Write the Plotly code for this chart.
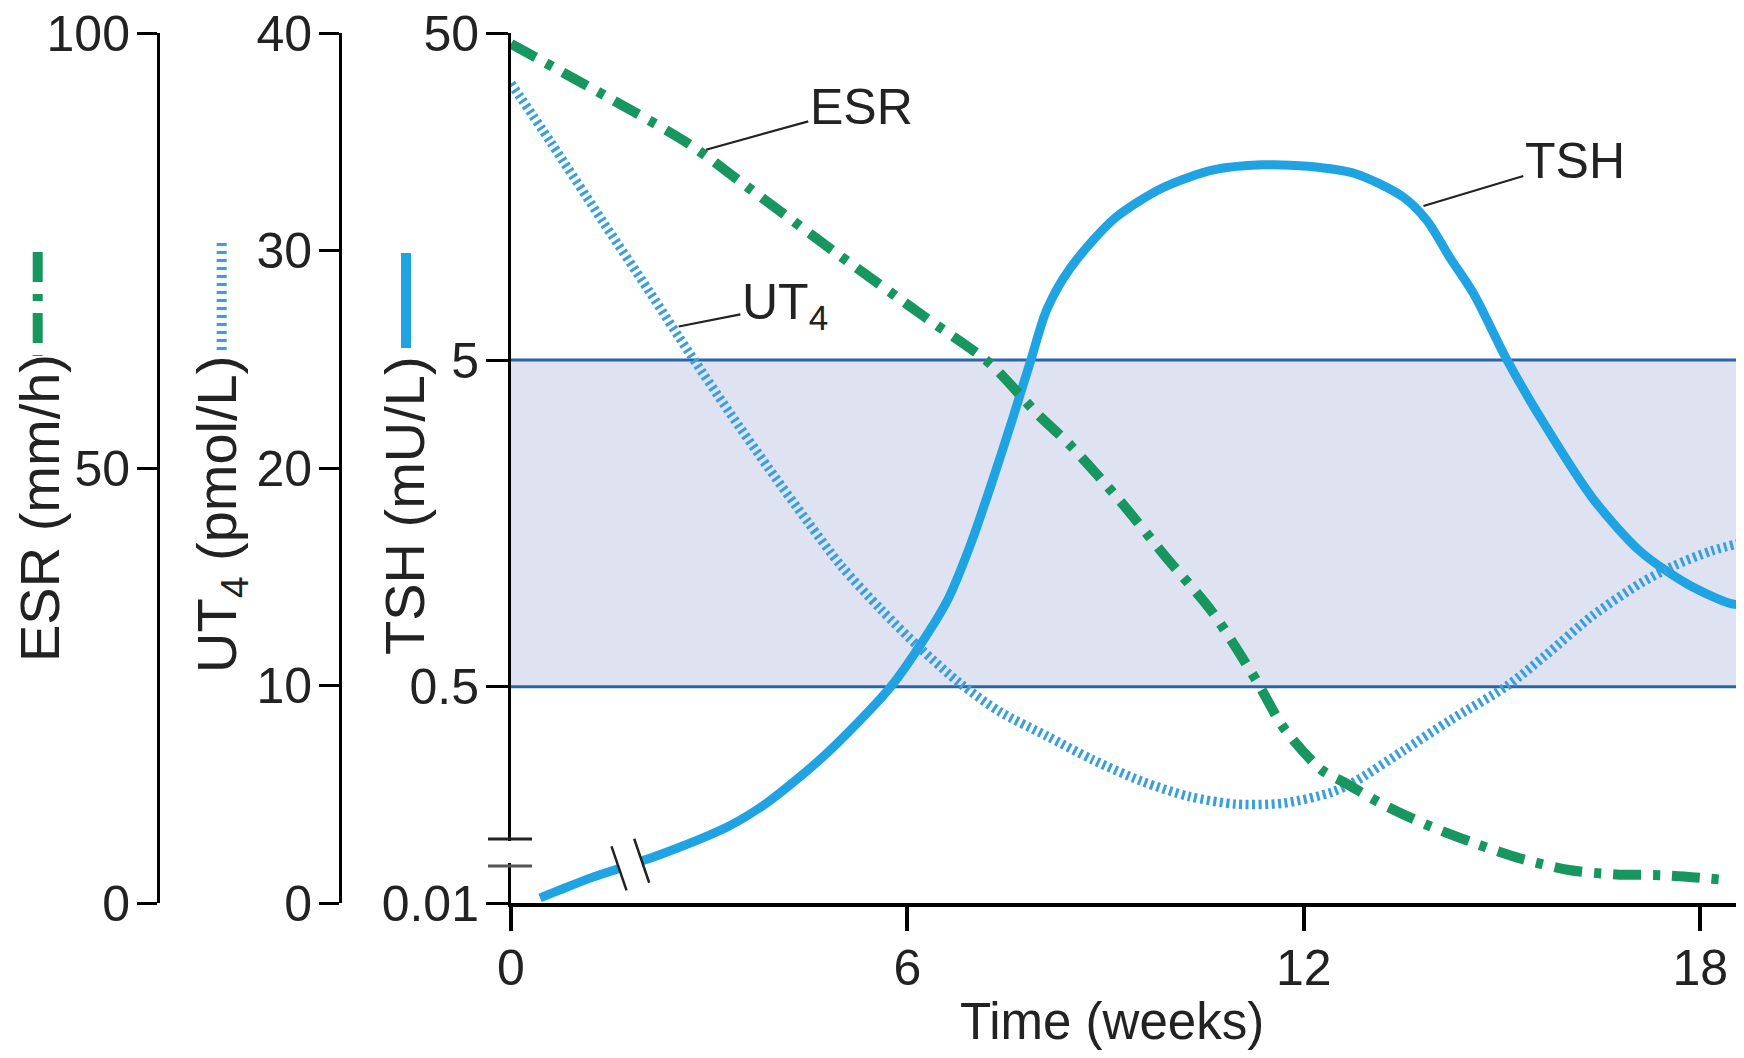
import numpy as np
import plotly.graph_objects as go

# ---------------- data ----------------
weeks_esr = [0.0, 1.55, 2.69, 3.57, 4.93, 6.28, 7.24, 7.96, 8.47, 9.19, 9.90, 10.62,
             11.28, 11.70, 12.27, 12.63, 13.13, 13.86, 14.58, 15.29, 16.01, 16.73, 17.44, 18.32]
esr = [98.8, 92.3, 87.3, 82.4, 74.7, 67.3, 62.1, 56.3, 52.6, 46.5, 39.9, 33.4,
       25.6, 20.1, 15.3, 13.8, 11.6, 9.0, 6.9, 5.1, 3.8, 3.3, 3.2, 2.7]

weeks_ut4 = [0.0, 0.6, 1.4, 2.1, 2.7, 3.3, 3.9, 4.5, 5.0, 5.6, 6.2, 6.8, 7.4, 8.1, 8.8,
             9.55, 10.27, 10.98, 11.7, 12.42, 12.78, 13.5, 14.21, 15.08, 15.66, 16.36,
             17.09, 17.59, 18.17, 18.66]
ut4 = [37.7, 35.0, 31.3, 28.1, 25.3, 22.6, 20.0, 17.5, 15.5, 13.5, 11.7, 10.1, 8.8, 7.7, 6.6,
       5.6, 4.9, 4.55, 4.6, 5.1, 5.6, 7.0, 8.4, 10.0, 11.4, 13.2,
       14.7, 15.5, 16.2, 16.6]

weeks_tsh = [0.44, 0.74, 1.24, 2.26, 3.31, 3.89, 4.76, 5.74, 6.20, 6.60, 6.95, 7.30, 7.59,
             7.86, 8.11, 8.47, 9.14, 9.88, 10.63, 11.37, 12.06, 12.78, 13.50, 13.86, 14.21,
             14.57, 15.08, 15.65, 16.37, 17.09, 17.81, 18.45, 18.66]
tsh = [0.0110, 0.0127, 0.0160, 0.0241, 0.0406, 0.0622, 0.147, 0.495, 0.674, 0.915, 1.354,
       2.174, 3.30, 4.94, 7.14, 9.59, 13.6, 16.9, 19.1, 19.8, 19.6, 18.6, 15.8, 13.4, 10.3,
       7.98, 4.98, 3.16, 1.89, 1.30, 1.03, 0.90, 0.89]

x_ticks = [0, 6, 12, 18]
esr_ticks = [0, 50, 100]
ut4_ticks = [0, 10, 20, 30, 40]
tsh_ticks = [0.01, 0.5, 5, 50]
tsh_ticktext = ["0.01", "0.5", "5", "50"]
normal_low, normal_high = 0.5, 5

# ---------------- broken log scale for TSH ----------------
U_HALF = 0.2487      # axis fraction where 0.5 mU/L sits
DECADE = 0.3757      # axis fraction per decade above 0.5
LOG_HALF = np.log10(0.5)


def tsh_pos(v):
    v = np.asarray(v, dtype=float)
    lv = np.log10(v)
    upper = U_HALF + (lv - LOG_HALF) * DECADE
    lower = U_HALF * (lv + 2.0) / (LOG_HALF + 2.0)
    return np.where(v >= 0.5, upper, lower)


TSH_TOP = float(tsh_pos(tsh_ticks[-1]))

# page body has an 8px margin: figure sits at (8, 8) of the window
OFF = 8
W, H = 1728, 1042
px = lambda x: (x - OFF) / W
py = lambda y: 1 - (y - OFF) / H

C_ESR = "#17965f"
C_UT4 = "#3a9fdb"
C_TSH = "#1fa3e3"
C_BAND = "#2c64a8"
C_FILL = "#dfe3f1"
SANS = "Liberation Sans"

XDOM = [px(511), 1.0]
YDOM = [py(903.1), py(33.4)]
XMAX = (OFF + W - 511) / 66.07

fig = go.Figure()
fig.add_trace(go.Scatter(x=weeks_tsh, y=tsh_pos(tsh), mode="lines", yaxis="y",
                         line=dict(color=C_TSH, width=9, shape="spline", smoothing=0.8),
                         hoverinfo="skip", showlegend=False))
fig.add_trace(go.Scatter(x=weeks_ut4, y=ut4, mode="lines", yaxis="y2",
                         line=dict(color=C_UT4, width=9.5, dash="3px,3.5px", shape="spline",
                                   smoothing=0.8),
                         hoverinfo="skip", showlegend=False))
fig.add_trace(go.Scatter(x=weeks_esr, y=esr, mode="lines", yaxis="y3",
                         line=dict(color=C_ESR, width=10, dash="28px,12px,7px,12px",
                                   shape="spline", smoothing=0.8),
                         hoverinfo="skip", showlegend=False))

axis_common = dict(showgrid=False, zeroline=False, showline=True, linecolor="black",
                   ticks="outside", tickcolor="black", fixedrange=True, automargin=False,
                   ticklabeloverflow="allow")
tick_font = dict(family=SANS, size=50, color="#222")

fig.update_layout(
    template="none",
    width=W, height=H, margin=dict(l=0, r=0, t=0, b=0, pad=0), autosize=False,
    paper_bgcolor="white", plot_bgcolor="white", showlegend=False,
    xaxis=dict(domain=XDOM, range=[0, XMAX], tickvals=x_ticks, linewidth=3.5, ticklen=24,
               tickwidth=3.5, ticklabelstandoff=-6, tickfont=tick_font, anchor="y",
               **axis_common),
    yaxis=dict(domain=YDOM, range=[0, TSH_TOP], tickvals=list(tsh_pos(tsh_ticks)),
               ticktext=tsh_ticktext, linewidth=3, ticklen=22, tickwidth=3,
               ticklabelstandoff=-3, tickfont=tick_font, **axis_common),
    yaxis2=dict(domain=YDOM, range=[0, 40], tickvals=ut4_ticks, overlaying="y",
                anchor="free", position=px(340), side="left", linewidth=3, ticklen=20,
                tickwidth=3, ticklabelstandoff=-3, tickfont=tick_font, **axis_common),
    yaxis3=dict(domain=YDOM, range=[0, 100], tickvals=esr_ticks, overlaying="y",
                anchor="free", position=px(158), side="left", linewidth=3, ticklen=20,
                tickwidth=3, ticklabelstandoff=-3, tickfont=tick_font, **axis_common),
)

shapes = []
# normal TSH band
shapes.append(dict(type="rect", xref="x domain", yref="y", x0=0, x1=1,
                   y0=float(tsh_pos(normal_low)), y1=float(tsh_pos(normal_high)),
                   fillcolor=C_FILL, line=dict(width=0), layer="below"))
for v in (normal_low, normal_high):
    shapes.append(dict(type="line", xref="x domain", yref="y", x0=0, x1=1,
                       y0=float(tsh_pos(v)), y1=float(tsh_pos(v)),
                       line=dict(color=C_BAND, width=3), layer="below"))
# axis break on the TSH axis
shapes.append(dict(type="rect", xref="paper", yref="paper", x0=px(504), x1=px(518),
                   y0=py(863), y1=py(841), fillcolor="white", line=dict(width=0),
                   layer="above"))
for yb, col in ((839, "#222"), (866, "#555")):
    shapes.append(dict(type="line", xref="paper", yref="paper", x0=px(488), x1=px(532),
                       y0=py(yb), y1=py(yb), line=dict(color=col, width=3), layer="above"))
# break on the TSH curve
tsh_u = tsh_pos(tsh)
bw = [1.635, 1.978]
bu = [float(np.interp(w, weeks_tsh, tsh_u)) for w in bw]
ddx, ddu = 7.5 / 66.07, 22.0 / 869.7
shapes.append(dict(type="path", xref="x", yref="y",
                   path=f"M {bw[0]-ddx},{bu[0]+ddu} L {bw[1]-ddx},{bu[1]+ddu} "
                        f"L {bw[1]+ddx},{bu[1]-ddu} L {bw[0]+ddx},{bu[0]-ddu} Z",
                   fillcolor="white", line=dict(width=0), layer="above"))
for w, u in zip(bw, bu):
    shapes.append(dict(type="line", xref="x", yref="y", x0=w - ddx, y0=u + ddu,
                       x1=w + ddx, y1=u - ddu, line=dict(color="#222", width=2.5),
                       layer="above"))
# legend glyphs next to the axis titles
shapes.append(dict(type="line", xref="paper", yref="paper", x0=px(37.7), x1=px(37.7),
                   y0=py(252), y1=py(356), line=dict(color=C_ESR, width=10,
                                                      dash="30px,12px,7px,12px")))
shapes.append(dict(type="line", xref="paper", yref="paper", x0=px(221.7), x1=px(221.7),
                   y0=py(243), y1=py(352), line=dict(color=C_UT4, width=10,
                                                      dash="3px,5px")))
shapes.append(dict(type="line", xref="paper", yref="paper", x0=px(406), x1=px(406),
                   y0=py(253), y1=py(348), line=dict(color=C_TSH, width=10)))
fig.update_layout(shapes=shapes)

ann = []
for text, xc, yc in (("ESR (mm/h)", 39, 508), ("UT<sub>4</sub> (pmol/L)", 220, 515),
                     ("TSH (mU/L)", 405, 506)):
    ann.append(dict(text=text, xref="paper", yref="paper", x=px(xc), y=py(yc),
                    xanchor="center", yanchor="middle", textangle=-90, showarrow=False,
                    font=dict(family=SANS, size=56, color="#222")))
ann.append(dict(text="Time (weeks)", xref="paper", yref="paper", x=px(1112), y=py(1021),
                xanchor="center", yanchor="middle", showarrow=False,
                font=dict(family=SANS, size=51, color="#222")))

lab_font = dict(family=SANS, size=50, color="#222")
w_e = 2.85
ann.append(dict(text="ESR", x=w_e, y=float(np.interp(w_e, weeks_esr, esr)), xref="x",
                yref="y3", ax=162, ay=-45, showarrow=True, arrowhead=0, arrowwidth=2.2,
                arrowcolor="#222", standoff=7, font=lab_font))
w_u = 2.45
ann.append(dict(text="UT<sub>4</sub>", x=w_u, y=float(np.interp(w_u, weeks_ut4, ut4)),
                xref="x", yref="y2", ax=112, ay=-22, showarrow=True, arrowhead=0,
                arrowwidth=2.2, arrowcolor="#222", standoff=6, font=lab_font))
w_t = 13.68
ann.append(dict(text="TSH", x=w_t, y=float(np.interp(w_t, weeks_tsh, tsh_u)), xref="x",
                yref="y", ax=160, ay=-48, showarrow=True, arrowhead=0, arrowwidth=2.2,
                arrowcolor="#222", standoff=9, font=lab_font))
fig.update_layout(annotations=ann)

fig.write_html("out.html")
